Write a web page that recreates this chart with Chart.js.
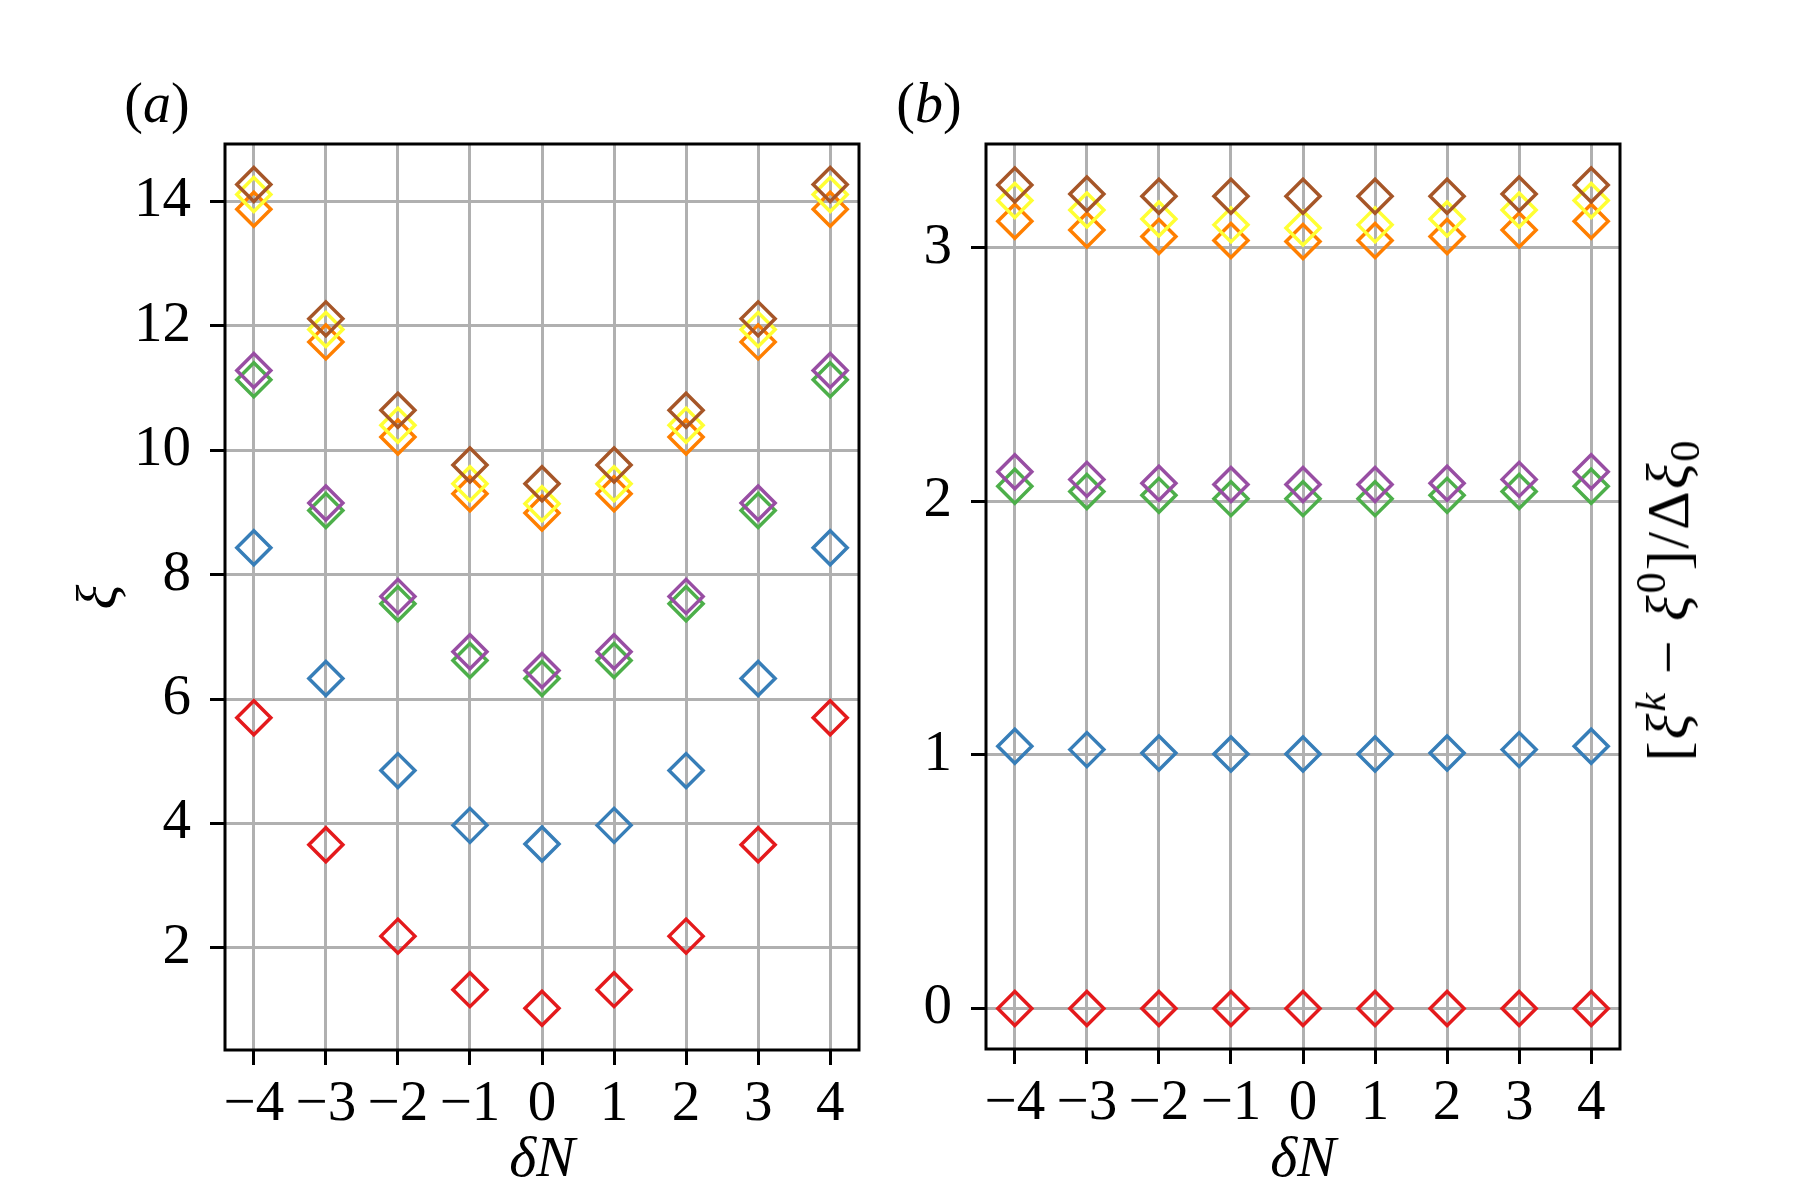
<!DOCTYPE html>
<html><head><meta charset="utf-8">
<script src="https://cdn.jsdelivr.net/npm/chart.js@4"></script>
<style>
html,body{margin:0;padding:0;background:#fff;}
#wrap{position:relative;width:1800px;height:1200px;overflow:hidden;background:#fff;}
canvas{position:absolute;left:0;top:0;}
.lbl{position:absolute;font-family:"Liberation Serif",serif;font-size:56px;color:#000;line-height:1;white-space:nowrap;transform:translate(-50%,-50%);}
.lbl sup,.lbl sub{font-size:0.7em;line-height:0;position:relative;vertical-align:baseline;}
.lbl sup{top:-0.55em;}
.lbl sub{top:0.25em;}
#ylb{font-size:60px;letter-spacing:2px;}
</style></head><body>
<div id="wrap">
<canvas id="ca" width="1800" height="1200"></canvas>
<canvas id="cb" width="1800" height="1200"></canvas>
<div class="lbl" style="left:157px;top:103px;">(<i>a</i>)</div>
<div class="lbl" style="left:929px;top:103px;">(<i>b</i>)</div>
<div class="lbl" id="ylb" style="left:1668px;top:600px;transform:translate(-50%,-50%) rotate(-90deg);">[<i>ξ</i><sup><i>k</i></sup> − <i>ξ</i><sup>0</sup>]/Δ<i>ξ</i><sub>0</sub></div>
</div>
<script>
// ---- data ----
const dN = [-4, -3, -2, -1, 0, 1, 2, 3, 4];
const xTicks = [-4, -3, -2, -1, 0, 1, 2, 3, 4];
const xTickLabels = ['\u22124', '\u22123', '\u22122', '\u22121', '0', '1', '2', '3', '4'];
const yTicksA = [2, 4, 6, 8, 10, 12, 14];
const yTickLabelsA = ['2', '4', '6', '8', '10', '12', '14'];
const yTicksB = [0, 1, 2, 3];
const yTickLabelsB = ['0', '1', '2', '3'];

// panel (a): xi
const aRed    = [5.70, 3.66, 2.19, 1.33, 1.03, 1.33, 2.19, 3.66, 5.70];
const aBlue   = [8.43, 6.33, 4.85, 3.97, 3.67, 3.97, 4.85, 6.33, 8.43];
const aGreen  = [11.13, 9.03, 7.53, 6.62, 6.33, 6.62, 7.53, 9.03, 11.13];
const aPurple = [11.28, 9.15, 7.65, 6.76, 6.46, 6.76, 7.65, 9.15, 11.28];
const aOrange = [13.87, 11.74, 10.21, 9.30, 8.99, 9.30, 10.21, 11.74, 13.87];
const aYellow = [14.11, 11.94, 10.40, 9.46, 9.14, 9.46, 10.40, 11.94, 14.11];
const aBrown  = [14.27, 12.11, 10.64, 9.76, 9.46, 9.76, 10.64, 12.11, 14.27];

// panel (b): normalized
const bRed    = [0, 0, 0, 0, 0, 0, 0, 0, 0];
const bBlue   = [1.034, 1.021, 1.008, 1.004, 1.004, 1.004, 1.008, 1.021, 1.034];
const bGreen  = [2.060, 2.039, 2.024, 2.011, 2.011, 2.011, 2.024, 2.039, 2.060];
const bPurple = [2.117, 2.087, 2.072, 2.067, 2.067, 2.067, 2.072, 2.087, 2.117];
const bOrange = [3.105, 3.071, 3.045, 3.029, 3.025, 3.029, 3.045, 3.071, 3.105];
const bYellow = [3.187, 3.150, 3.114, 3.091, 3.079, 3.091, 3.114, 3.150, 3.187];
const bBrown  = [3.248, 3.213, 3.204, 3.204, 3.204, 3.204, 3.204, 3.213, 3.248];

const xRange = [-4.4, 4.4];
const yRangeA = [0.36, 14.92];
const yRangeB = [-0.16, 3.41];

// ---- styles ----
const colors = ['#e41a1c', '#377eb8', '#4daf4a', '#984ea3', '#ff7f00', '#ffff33', '#a65628'];
const FONT = '"Liberation Serif", "DejaVu Serif", serif';

const frame = {
  id: 'frame',
  afterDatasetsDraw(chart) {
    const { ctx, chartArea: a } = chart;
    ctx.save();
    ctx.strokeStyle = '#000';
    ctx.lineWidth = 3;
    ctx.strokeRect(a.left, a.top, a.right - a.left, a.bottom - a.top);
    ctx.restore();
  }
};

function makeChart(id, series, yTicks, yLabels, yRange, area, yTitle) {
  return new Chart(document.getElementById(id), {
    type: 'scatter',
    data: {
      datasets: series.map((s, i) => ({
        data: dN.map((x, j) => ({ x: x, y: s[j] })),
        pointStyle: 'rectRot',
        pointRadius: 17,
        pointHoverRadius: 17,
        borderColor: colors[i],
        pointBorderColor: colors[i],
        backgroundColor: 'rgba(0,0,0,0)',
        pointBackgroundColor: 'rgba(0,0,0,0)',
        pointBorderWidth: 3.5,
        borderWidth: 3.5,
        showLine: false,
        order: 6 - i
      }))
    },
    options: {
      responsive: false,
      animation: false,
      devicePixelRatio: 1,
      events: [],
      layout: { padding: { left: 0, top: area.top, right: 1800 - area.right, bottom: 0 } },
      plugins: { legend: { display: false }, tooltip: { enabled: false } },
      scales: {
        x: {
          type: 'linear', position: 'bottom', min: xRange[0], max: xRange[1],
          afterBuildTicks: s => { s.ticks = xTicks.map(v => ({ value: v })); },
          afterFit: s => { s.height = 1200 - area.bottom; },
          ticks: {
            autoSkip: false, maxRotation: 0, minRotation: 0, padding: 6, color: '#000',
            font: { family: FONT, size: 57 },
            callback: v => xTickLabels[xTicks.indexOf(v)]
          },
          grid: { color: '#b0b0b0', lineWidth: 3, tickColor: '#000', tickWidth: 3, tickLength: 15, drawTicks: true },
          border: { display: false },
          title: { display: true, text: 'δN', color: '#000', font: { family: FONT, size: 58, style: 'italic' }, padding: { top: 0, bottom: 4 } }
        },
        y: {
          type: 'linear', position: 'left', min: yRange[0], max: yRange[1],
          afterBuildTicks: s => { s.ticks = yTicks.map(v => ({ value: v })); },
          afterFit: s => { s.width = area.left; },
          ticks: {
            autoSkip: false, padding: 19, color: '#000',
            font: { family: FONT, size: 57 },
            callback: v => yLabels[yTicks.indexOf(v)]
          },
          grid: { color: '#b0b0b0', lineWidth: 3, tickColor: '#000', tickWidth: 3, tickLength: 15, drawTicks: true },
          border: { display: false },
          title: yTitle ? { display: true, text: yTitle, color: '#000', font: { family: FONT, size: 58, style: 'italic' }, padding: { top: 66, bottom: 0 } } : { display: false }
        }
      }
    },
    plugins: [frame]
  });
}

makeChart('ca', [aRed, aBlue, aGreen, aPurple, aOrange, aYellow, aBrown],
  yTicksA, yTickLabelsA, yRangeA, { left: 225, right: 859, top: 144, bottom: 1050 }, 'ξ');
makeChart('cb', [bRed, bBlue, bGreen, bPurple, bOrange, bYellow, bBrown],
  yTicksB, yTickLabelsB, yRangeB, { left: 986, right: 1620, top: 144, bottom: 1049 }, null);
</script>
</body></html>
